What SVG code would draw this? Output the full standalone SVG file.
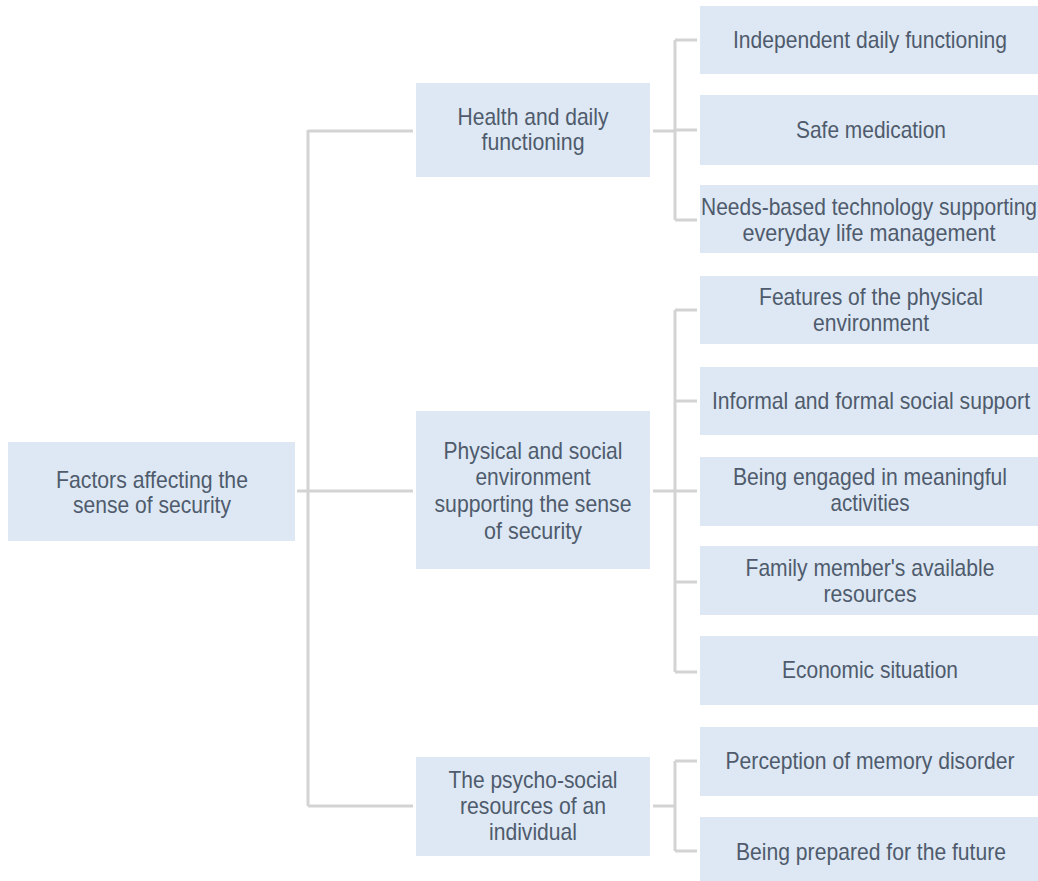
<svg xmlns="http://www.w3.org/2000/svg" width="1038" height="881" viewBox="0 0 1038 881">
<style>
.box{fill:#dde8f4}
.t{font-family:"Liberation Sans",Arial,sans-serif;font-size:24px;fill:#4f5b6c;text-anchor:middle}
.c{fill:none;stroke:#d3d3d3;stroke-width:3}
</style>
<rect width="1038" height="881" fill="#ffffff"/>
<g id="connectors">
<path class="c" d="M297,491 H413 M308,130 V806 M308,131 H413 M308,806 H413"/>
<path class="c" d="M653,131 H675 M675,40 V220 M675,40 H697 M675,130 H697 M675,220 H697"/>
<path class="c" d="M653,491 H675 M675,310 V672 M675,310 H697 M675,401 H697 M675,491 H697 M675,582 H697 M675,672 H697"/>
<path class="c" d="M653,806 H675 M675,761 V851 M675,761 H697 M675,851 H697"/>
</g>
<g id="root"><rect class="box" x="8" y="442" width="287" height="99"/><text class="t" x="152" y="488" textLength="192" lengthAdjust="spacingAndGlyphs">Factors affecting the</text><text class="t" x="152" y="513" textLength="158" lengthAdjust="spacingAndGlyphs">sense of security</text></g>
<g id="health"><rect class="box" x="416" y="83" width="234" height="94"/><text class="t" x="533" y="125" textLength="151" lengthAdjust="spacingAndGlyphs">Health and daily</text><text class="t" x="533" y="150" textLength="103" lengthAdjust="spacingAndGlyphs">functioning</text></g>
<g id="physical"><rect class="box" x="416" y="411" width="234" height="158"/><text class="t" x="533" y="459" textLength="179" lengthAdjust="spacingAndGlyphs">Physical and social</text><text class="t" x="533" y="485" textLength="115" lengthAdjust="spacingAndGlyphs">environment</text><text class="t" x="533" y="512" textLength="197" lengthAdjust="spacingAndGlyphs">supporting the sense</text><text class="t" x="533" y="539" textLength="98" lengthAdjust="spacingAndGlyphs">of security</text></g>
<g id="psycho"><rect class="box" x="416" y="757" width="234" height="99"/><text class="t" x="533" y="788" textLength="169" lengthAdjust="spacingAndGlyphs">The psycho-social</text><text class="t" x="533" y="814" textLength="146" lengthAdjust="spacingAndGlyphs">resources of an</text><text class="t" x="533" y="840" textLength="88" lengthAdjust="spacingAndGlyphs">individual</text></g>
<g id="independent"><rect class="box" x="700" y="6" width="338" height="68"/><text class="t" x="870" y="48" textLength="274" lengthAdjust="spacingAndGlyphs">Independent daily functioning</text></g>
<g id="medication"><rect class="box" x="700" y="95" width="338" height="70"/><text class="t" x="871" y="138" textLength="150" lengthAdjust="spacingAndGlyphs">Safe medication</text></g>
<g id="technology"><rect class="box" x="700" y="185" width="338" height="68"/><text class="t" x="869" y="215" textLength="336" lengthAdjust="spacingAndGlyphs">Needs-based technology supporting</text><text class="t" x="869" y="241" textLength="253" lengthAdjust="spacingAndGlyphs">everyday life management</text></g>
<g id="features"><rect class="box" x="700" y="276" width="338" height="68"/><text class="t" x="871" y="305" textLength="224" lengthAdjust="spacingAndGlyphs">Features of the physical</text><text class="t" x="871" y="331" textLength="116" lengthAdjust="spacingAndGlyphs">environment</text></g>
<g id="support"><rect class="box" x="700" y="367" width="338" height="68"/><text class="t" x="871" y="409" textLength="318" lengthAdjust="spacingAndGlyphs">Informal and formal social support</text></g>
<g id="activities"><rect class="box" x="700" y="457" width="338" height="69"/><text class="t" x="870" y="485" textLength="274" lengthAdjust="spacingAndGlyphs">Being engaged in meaningful</text><text class="t" x="870" y="511" textLength="79" lengthAdjust="spacingAndGlyphs">activities</text></g>
<g id="family"><rect class="box" x="700" y="546" width="338" height="69"/><text class="t" x="870" y="576" textLength="249" lengthAdjust="spacingAndGlyphs">Family member's available</text><text class="t" x="870" y="602" textLength="93" lengthAdjust="spacingAndGlyphs">resources</text></g>
<g id="economic"><rect class="box" x="700" y="636" width="338" height="69"/><text class="t" x="870" y="678" textLength="176" lengthAdjust="spacingAndGlyphs">Economic situation</text></g>
<g id="memory"><rect class="box" x="700" y="727" width="338" height="69"/><text class="t" x="870" y="769" textLength="289" lengthAdjust="spacingAndGlyphs">Perception of memory disorder</text></g>
<g id="future"><rect class="box" x="700" y="817" width="338" height="69"/><text class="t" x="871" y="860" textLength="270" lengthAdjust="spacingAndGlyphs">Being prepared for the future</text></g>
</svg>
